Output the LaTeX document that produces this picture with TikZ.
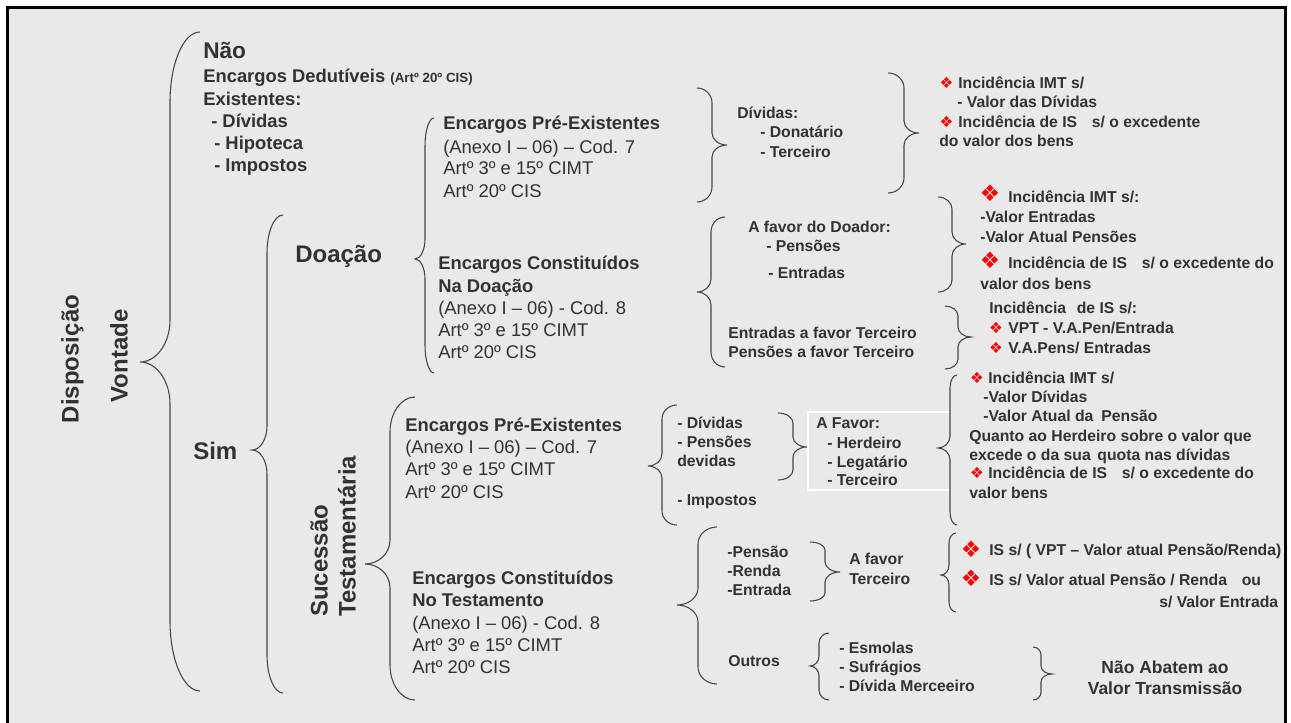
\documentclass[tikz,border=0pt]{standalone}
\usepackage{fontspec}
\setmainfont{Liberation Sans}
\newfontfamily\djv{DejaVu Sans}
\definecolor{bgc}{RGB}{233,233,233}
\definecolor{txc}{RGB}{50,50,50}
\definecolor{brcol}{RGB}{70,70,70}
\newcommand\bracepath[8]{%
  \pgfmathsetmacro\bpa{#1-0.5523*(#1-#4)}%
  \pgfmathsetmacro\bpb{#5+0.5523*(#4-#5)}%
  \draw[brc] (#1,#2) .. controls (\bpa,#2) and (#4,{#2+0.4477*#7}) .. (#4,{#2+#7})
    -- (#4,{#6-#8}) .. controls (#4,{#6-0.4477*#8}) and (\bpb,#6) .. (#5,#6)
    .. controls (\bpb,#6) and (#4,{#6+0.4477*#8}) .. (#4,{#6+#8})
    -- (#4,{#3-#7}) .. controls (#4,{#3-0.4477*#7}) and (\bpa,#3) .. (#1,#3);}
\begin{document}
\begin{tikzpicture}[x=0.75pt,y=-0.75pt,
  brc/.style={draw=brcol, line width=0.8pt},
  lab/.style={font=\bfseries\fontsize{18}{21}\selectfont, text=txc, inner sep=0pt, text height=12.9pt, text depth=0pt},
  nao/.style={font=\bfseries\fontsize{17}{20}\selectfont, text=txc, inner sep=0pt, text height=12.2pt, text depth=0pt, anchor=west},
  enc/.style={font=\bfseries\fontsize{13.8}{16}\selectfont, text=txc, inner sep=0pt, text height=9.9pt, text depth=0pt, anchor=west},
  encr/.style={font=\fontsize{13.8}{16}\selectfont, text=txc, inner sep=0pt, text height=9.9pt, text depth=0pt, anchor=west},
  sm/.style={font=\bfseries\fontsize{11.8}{14}\selectfont, text=txc, inner sep=0pt, text height=8.45pt, text depth=0pt, anchor=west},
  na/.style={font=\bfseries\fontsize{13.1}{15}\selectfont, text=txc, inner sep=0pt, text height=9.4pt, text depth=0pt, anchor=center},
  dia/.style={font=\djv\fontsize{11.5}{13}\selectfont, text=red, inner sep=0pt, anchor=center},
  diab/.style={font=\djv\fontsize{17}{19}\selectfont, text=red, inner sep=0pt, anchor=center}
]
\useasboundingbox (0,0) rectangle (1291,723);
\clip (0,0) rectangle (1291,723);
\fill[white] (0,0) rectangle (1291,723);
\filldraw[fill=bgc, draw=black, line width=2.25pt] (7.5,8) rectangle (1285.5,745);

% braces
\bracepath{200}{32}{691}{170}{140}{362}{70}{42}
\bracepath{283}{215}{693}{267}{252}{450}{38}{24}
\bracepath{434}{118}{373}{425}{415}{259}{28}{20}
\bracepath{415}{397}{700}{390}{365}{564}{35}{24}
\bracepath{697}{88}{202}{712}{727}{145}{15}{12}
\bracepath{725}{217}{367}{711}{697}{292}{15}{13}
\bracepath{888}{73}{193}{904}{919}{133}{15}{12}
\bracepath{938}{197}{292}{952}{966}{244}{12}{12}
\bracepath{945}{306}{369}{958}{971}{337}{10}{10}
\bracepath{677}{405}{525}{662}{648}{466}{14}{12}
\bracepath{778}{413}{480}{793}{807}{447}{10}{10}
\draw[white, line width=0.8pt] (950,412) -- (808,412) -- (808,490) -- (950,490);
\bracepath{957}{375}{525}{950}{938}{448}{13}{12}
\bracepath{717}{527}{684}{698}{677}{605}{17}{17}
\bracepath{810}{542}{601}{825}{840}{572}{8}{10}
\bracepath{956}{533}{612}{949}{941}{575}{10}{10}
\bracepath{829}{633}{700}{819}{810}{666}{10}{10}
\bracepath{1033}{647}{700}{1041}{1052}{674}{8}{8}

% left labels
\node[lab, rotate=90] (disp) at (70,359) {Disposição};
\node[lab, rotate=90] (vont) at (119,356) {Vontade};
\node[nao] (nao) at (203,50) {Não};
\node[enc] (ded) at (203,76) {Encargos Dedutíveis {\fontsize{10}{12}\selectfont(Artº 20º CIS)}};
\node[enc] (exi) at (203,99) {Existentes:};
\node[enc] (ndiv) at (211,121) {- Dívidas};
\node[enc] (nhip) at (214,143) {- Hipoteca};
\node[enc] (nimp) at (214,165) {- Impostos};
\node[lab, anchor=west] (doa) at (295,254) {Doação};
\node[lab, anchor=west] (sim) at (193,451) {Sim};
\node[lab, rotate=90, anchor=west] (suc) at (319,617) {Sucessão};
\node[lab, rotate=90, anchor=west] (tes) at (347,617) {Testamentária};

% Doacao blocks
\node[enc] (dpe1) at (443,123) {Encargos Pré-Existentes};
\node[encr] (dpe2) at (443,147) {(Anexo I – 06) – Cod. 7};
\node[encr] (dpe3) at (443,168) {Artº 3º e 15º CIMT};
\node[encr] (dpe4) at (443,191) {Artº 20º CIS};
\node[enc] (dcn1) at (438,263) {Encargos Constituídos};
\node[enc] (dcn2) at (438,286) {Na Doação};
\node[encr] (dcn3) at (438,308) {(Anexo I – 06) - Cod. 8};
\node[encr] (dcn4) at (438,330) {Artº 3º e 15º CIMT};
\node[encr] (dcn5) at (438,352) {Artº 20º CIS};

% Sucessao blocks
\node[enc] (spe1) at (405,425) {Encargos Pré-Existentes};
\node[encr] (spe2) at (405,447) {(Anexo I – 06) – Cod. 7};
\node[encr] (spe3) at (405,469) {Artº 3º e 15º CIMT};
\node[encr] (spe4) at (405,492) {Artº 20º CIS};
\node[enc] (scn1) at (412,578) {Encargos Constituídos};
\node[enc] (scn2) at (412,600) {No Testamento};
\node[encr] (scn3) at (412,623) {(Anexo I – 06) - Cod. 8};
\node[encr] (scn4) at (412,645) {Artº 3º e 15º CIMT};
\node[encr] (scn5) at (412,667) {Artº 20º CIS};

% Doacao middle
\node[sm] (dd1) at (737,113) {Dívidas:};
\node[sm] (dd2) at (760,132) {- Donatário};
\node[sm] (dd3) at (760,152) {- Terceiro};
\node[sm] (fd1) at (748,227) {A favor do Doador:};
\node[sm] (fd2) at (766,246) {- Pensões};
\node[sm] (fd3) at (768,273) {- Entradas};
\node[sm] (et1) at (728,333) {Entradas a favor Terceiro};
\node[sm] (et2) at (728,352) {Pensões a favor Terceiro};

% Doacao right
\node[dia] (r1a) at (946.5,83) {❖};
\node[sm] (r1b) at (958,83) {Incidência IMT s/};
\node[sm] (r1c) at (957,102) {- Valor das Dívidas};
\node[dia] (r1d) at (946.5,122) {❖};
\node[sm] (r1e) at (958,122) {Incidência de IS\hspace{11pt}s/ o excedente};
\node[sm] (r1f) at (939,141) {do valor dos bens};

\node[diab] (r2a) at (990,193) {❖};
\node[sm] (r2b) at (1008,197) {Incidência IMT s/:};
\node[sm] (r2c) at (980,217) {-Valor Entradas};
\node[sm] (r2d) at (980,237) {-Valor Atual Pensões};
\node[diab] (r2e) at (990,260) {❖};
\node[sm] (r2f) at (1008,263) {Incidência de IS\hspace{11pt}s/ o excedente do};
\node[sm] (r2g) at (980,284) {valor dos bens};

\node[sm] (r3a) at (989,308) {Incidência\hspace{8pt}de IS s/:};
\node[dia] (r3b) at (996,328) {❖};
\node[sm] (r3c) at (1008,328) {VPT - V.A.Pen/Entrada};
\node[dia] (r3d) at (996,348) {❖};
\node[sm] (r3e) at (1008,348) {V.A.Pens/ Entradas};

% Sucessao middle
\node[sm] (sd1) at (677,423) {- Dívidas};
\node[sm] (sd2) at (677,442) {- Pensões};
\node[sm] (sd3) at (677,461) {devidas};
\node[sm] (sd4) at (677,500) {- Impostos};
\node[sm] (af1) at (816,423) {A Favor:};
\node[sm] (af2) at (827,443) {- Herdeiro};
\node[sm] (af3) at (827,462) {- Legatário};
\node[sm] (af4) at (827,480) {- Terceiro};

% Sucessao right
\node[dia] (r4a) at (977,378) {❖};
\node[sm] (r4b) at (988,378) {Incidência IMT s/};
\node[sm] (r4c) at (983,397) {-Valor Dívidas};
\node[sm] (r4d) at (983,416) {-Valor Atual da\hspace{6pt}Pensão};
\node[sm] (r4e) at (969,436) {Quanto ao Herdeiro sobre o valor que};
\node[sm] (r4f) at (969,455) {excede o da sua\hspace{5pt}quota nas dívidas};
\node[dia] (r4g) at (977,473) {❖};
\node[sm] (r4h) at (988,473) {Incidência de IS\hspace{11pt}s/ o excedente do};
\node[sm] (r4i) at (969,493) {valor bens};

% bottom
\node[sm] (bp1) at (727,552) {-Pensão};
\node[sm] (bp2) at (727,571) {-Renda};
\node[sm] (bp3) at (727,590) {-Entrada};
\node[sm] (bf1) at (849,559) {A favor};
\node[sm] (bf2) at (849,579) {Terceiro};
\node[diab] (b5a) at (971,549) {❖};
\node[sm] (b5b) at (989,550) {IS s/ ( VPT – Valor atual Pensão/Renda)};
\node[diab] (b5c) at (971,578) {❖};
\node[sm] (b5d) at (989,580) {IS s/ Valor atual Pensão / Renda\hspace{11pt}ou};
\node[sm] (b5e) at (1159,602) {s/ Valor Entrada};
\node[sm] (out) at (728,661) {Outros};
\node[sm] (es1) at (839,648) {- Esmolas};
\node[sm] (es2) at (839,667) {- Sufrágios};
\node[sm] (es3) at (839,686) {- Dívida Merceeiro};
\node[na] (na1) at (1165,667) {Não Abatem ao};
\node[na] (na2) at (1165,688) {Valor Transmissão};
\end{tikzpicture}
\end{document}
